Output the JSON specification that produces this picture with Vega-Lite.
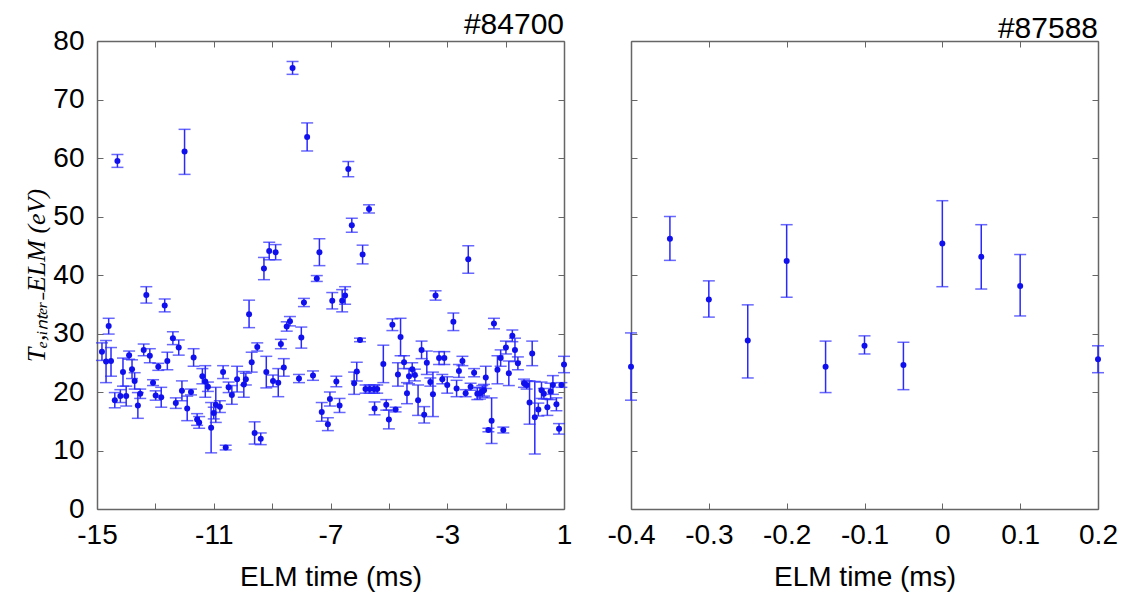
{
  "$schema": "https://vega.github.io/schema/vega-lite/v6.json",
  "background": "white",
  "padding": {"left": 23, "top": 10, "right": 5, "bottom": 5},
  "config": {
    "view": {"stroke": null},
    "axis": {"labelFont": "Liberation Sans", "labelFontSize": 28, "labelColor": "#000", "titleFont": "Liberation Sans", "titleFontSize": 28, "titleFontWeight": "normal", "titleColor": "#000", "domainColor": "#666", "domainWidth": 1.5, "tickColor": "#666", "tickSize": -6, "tickWidth": 1, "grid": false},
    "title": {"font": "Liberation Sans", "fontSize": 30, "fontWeight": "normal", "anchor": "end", "frame": "group", "color": "#000"}
  },
  "datasets": {
    "a": [
      {"t": -14.83, "te": 26.9, "lo": 25.4, "hi": 28.4},
      {"t": -14.69, "te": 25.2, "lo": 21.6, "hi": 28.8},
      {"t": -14.6, "te": 31.3, "lo": 29.9, "hi": 32.6},
      {"t": -14.52, "te": 25.3, "lo": 22.7, "hi": 27.6},
      {"t": -14.39, "te": 18.6, "lo": 17.3, "hi": 19.9},
      {"t": -14.2, "te": 19.3, "lo": 18.2, "hi": 20.4},
      {"t": -14.11, "te": 23.4, "lo": 21.0, "hi": 25.8},
      {"t": -14.0, "te": 19.3, "lo": 17.6, "hi": 21.0},
      {"t": -13.9, "te": 26.3, "lo": 25.6, "hi": 27.0},
      {"t": -13.8, "te": 23.9, "lo": 22.3, "hi": 25.5},
      {"t": -13.71, "te": 21.9, "lo": 20.5, "hi": 23.3},
      {"t": -13.6, "te": 17.7, "lo": 15.5, "hi": 19.9},
      {"t": -13.52, "te": 19.7, "lo": 18.9, "hi": 20.5},
      {"t": -13.4, "te": 27.2, "lo": 26.2, "hi": 28.2},
      {"t": -13.31, "te": 36.6, "lo": 35.2, "hi": 38.0},
      {"t": -13.19, "te": 26.2, "lo": 25.0, "hi": 27.4},
      {"t": -13.08, "te": 21.6, "lo": 21.1, "hi": 22.1},
      {"t": -12.99, "te": 19.4, "lo": 18.6, "hi": 20.2},
      {"t": -12.9, "te": 24.3, "lo": 23.7, "hi": 24.9},
      {"t": -12.8, "te": 19.1, "lo": 17.4, "hi": 20.8},
      {"t": -12.68, "te": 34.8, "lo": 33.7, "hi": 35.9},
      {"t": -12.59, "te": 25.3, "lo": 23.8, "hi": 26.8},
      {"t": -12.4, "te": 29.2, "lo": 28.1, "hi": 30.3},
      {"t": -12.3, "te": 18.1, "lo": 17.2, "hi": 19.0},
      {"t": -12.2, "te": 27.6, "lo": 26.3, "hi": 28.9},
      {"t": -12.09, "te": 20.2, "lo": 18.5, "hi": 21.9},
      {"t": -11.91, "te": 17.2, "lo": 15.1, "hi": 19.3},
      {"t": -11.78, "te": 20.0, "lo": 19.5, "hi": 20.5},
      {"t": -11.69, "te": 25.9, "lo": 24.4, "hi": 27.4},
      {"t": -11.57, "te": 15.3, "lo": 14.3, "hi": 16.3},
      {"t": -11.5, "te": 14.8, "lo": 13.8, "hi": 15.8},
      {"t": -11.39, "te": 22.7, "lo": 21.4, "hi": 24.0},
      {"t": -11.29, "te": 21.8, "lo": 19.1, "hi": 24.5},
      {"t": -11.2, "te": 20.9, "lo": 20.1, "hi": 21.7},
      {"t": -11.09, "te": 13.9, "lo": 9.6, "hi": 18.2},
      {"t": -11.0, "te": 16.4, "lo": 15.4, "hi": 17.4},
      {"t": -10.93, "te": 17.8, "lo": 14.8, "hi": 20.8},
      {"t": -10.79, "te": 17.5, "lo": 16.5, "hi": 18.5},
      {"t": -14.3, "te": 59.5, "lo": 58.4, "hi": 60.6},
      {"t": -12.0, "te": 61.1, "lo": 57.2, "hi": 64.9},
      {"t": -8.3, "te": 75.4, "lo": 74.3, "hi": 76.5},
      {"t": -7.8, "te": 63.6, "lo": 61.2, "hi": 66.0},
      {"t": -9.28, "te": 41.1, "lo": 39.2, "hi": 43.0},
      {"t": -9.1, "te": 44.1, "lo": 42.6, "hi": 45.6},
      {"t": -8.88, "te": 43.9, "lo": 42.6, "hi": 45.2},
      {"t": -7.38, "te": 43.9, "lo": 41.6, "hi": 46.2},
      {"t": -7.47, "te": 39.4, "lo": 38.9, "hi": 39.9},
      {"t": -6.39, "te": 58.1, "lo": 56.8, "hi": 59.4},
      {"t": -5.68, "te": 51.3, "lo": 50.6, "hi": 52.0},
      {"t": -6.27, "te": 48.5, "lo": 47.3, "hi": 49.7},
      {"t": -5.9, "te": 43.5, "lo": 41.9, "hi": 45.1},
      {"t": -2.28, "te": 42.7, "lo": 40.3, "hi": 45.0},
      {"t": -9.79, "te": 33.3, "lo": 31.0, "hi": 35.7},
      {"t": -7.91, "te": 35.3, "lo": 34.6, "hi": 36.0},
      {"t": -6.94, "te": 35.6, "lo": 34.2, "hi": 37.0},
      {"t": -8.39, "te": 32.1, "lo": 31.3, "hi": 32.9},
      {"t": -8.5, "te": 31.2, "lo": 30.4, "hi": 32.0},
      {"t": -8.0, "te": 29.3, "lo": 27.5, "hi": 31.1},
      {"t": -9.51, "te": 27.7, "lo": 27.0, "hi": 28.4},
      {"t": -8.7, "te": 28.2, "lo": 27.4, "hi": 29.0},
      {"t": -10.68, "te": 23.4, "lo": 22.3, "hi": 24.5},
      {"t": -9.7, "te": 25.1, "lo": 23.4, "hi": 26.8},
      {"t": -9.2, "te": 23.4, "lo": 20.7, "hi": 26.1},
      {"t": -8.6, "te": 24.2, "lo": 22.7, "hi": 25.7},
      {"t": -10.2, "te": 22.2, "lo": 20.0, "hi": 24.4},
      {"t": -9.9, "te": 22.2, "lo": 21.2, "hi": 23.2},
      {"t": -9.97, "te": 21.3, "lo": 19.1, "hi": 23.5},
      {"t": -10.49, "te": 20.8, "lo": 19.9, "hi": 21.7},
      {"t": -10.38, "te": 19.5, "lo": 17.9, "hi": 21.1},
      {"t": -8.97, "te": 21.9, "lo": 20.9, "hi": 22.9},
      {"t": -8.79, "te": 21.6, "lo": 19.2, "hi": 24.0},
      {"t": -8.08, "te": 22.3, "lo": 21.6, "hi": 23.0},
      {"t": -7.6, "te": 22.8, "lo": 22.0, "hi": 23.6},
      {"t": -7.02, "te": 18.8, "lo": 17.6, "hi": 20.0},
      {"t": -7.3, "te": 16.6, "lo": 15.0, "hi": 18.2},
      {"t": -7.09, "te": 14.5, "lo": 13.4, "hi": 15.6},
      {"t": -9.6, "te": 13.0, "lo": 11.1, "hi": 14.9},
      {"t": -9.39, "te": 12.0, "lo": 11.0, "hi": 13.0},
      {"t": -10.59, "te": 10.5, "lo": 10.1, "hi": 10.9},
      {"t": -6.6, "te": 35.6, "lo": 33.7, "hi": 37.5},
      {"t": -6.5, "te": 36.5, "lo": 35.0, "hi": 38.0},
      {"t": -3.4, "te": 36.5, "lo": 35.7, "hi": 37.3},
      {"t": -5.99, "te": 28.9, "lo": 28.6, "hi": 29.2},
      {"t": -4.88, "te": 31.5, "lo": 30.5, "hi": 32.5},
      {"t": -4.6, "te": 29.4, "lo": 26.2, "hi": 32.6},
      {"t": -5.19, "te": 24.8, "lo": 21.6, "hi": 28.0},
      {"t": -3.88, "te": 27.2, "lo": 25.7, "hi": 28.7},
      {"t": -3.7, "te": 25.0, "lo": 23.0, "hi": 27.0},
      {"t": -3.28, "te": 25.8, "lo": 24.7, "hi": 26.9},
      {"t": -3.1, "te": 25.8, "lo": 24.7, "hi": 26.9},
      {"t": -6.1, "te": 23.5, "lo": 21.9, "hi": 25.1},
      {"t": -6.19, "te": 21.5, "lo": 19.6, "hi": 23.4},
      {"t": -6.8, "te": 21.8, "lo": 20.9, "hi": 22.7},
      {"t": -6.69, "te": 17.7, "lo": 16.5, "hi": 18.9},
      {"t": -5.8, "te": 20.5, "lo": 19.8, "hi": 21.2},
      {"t": -5.66, "te": 20.5, "lo": 19.8, "hi": 21.2},
      {"t": -5.51, "te": 20.5, "lo": 19.8, "hi": 21.2},
      {"t": -5.4, "te": 20.5, "lo": 19.8, "hi": 21.2},
      {"t": -5.49, "te": 17.2, "lo": 16.1, "hi": 18.3},
      {"t": -5.09, "te": 17.8, "lo": 16.9, "hi": 18.7},
      {"t": -4.77, "te": 17.0, "lo": 16.6, "hi": 17.4},
      {"t": -5.0, "te": 15.3, "lo": 13.7, "hi": 16.9},
      {"t": -4.69, "te": 23.0, "lo": 21.0, "hi": 25.0},
      {"t": -4.48, "te": 25.1, "lo": 24.0, "hi": 26.2},
      {"t": -4.38, "te": 19.8, "lo": 18.0, "hi": 21.6},
      {"t": -4.31, "te": 22.7, "lo": 21.4, "hi": 24.0},
      {"t": -4.2, "te": 23.9, "lo": 22.8, "hi": 25.0},
      {"t": -4.11, "te": 22.9, "lo": 21.9, "hi": 23.9},
      {"t": -4.0, "te": 18.6, "lo": 16.0, "hi": 21.2},
      {"t": -3.79, "te": 16.1, "lo": 14.7, "hi": 17.5},
      {"t": -3.58, "te": 21.7, "lo": 21.0, "hi": 22.4},
      {"t": -3.49, "te": 19.6, "lo": 15.8, "hi": 23.4},
      {"t": -3.17, "te": 22.2, "lo": 21.4, "hi": 23.0},
      {"t": -3.0, "te": 21.2, "lo": 19.8, "hi": 22.6},
      {"t": -2.79, "te": 32.0, "lo": 30.5, "hi": 33.5},
      {"t": -1.4, "te": 31.7, "lo": 30.8, "hi": 32.6},
      {"t": -0.77, "te": 29.6, "lo": 28.6, "hi": 30.6},
      {"t": -0.99, "te": 27.6, "lo": 26.5, "hi": 28.7},
      {"t": -0.68, "te": 27.2, "lo": 25.2, "hi": 29.2},
      {"t": -0.09, "te": 26.6, "lo": 24.5, "hi": 28.7},
      {"t": -1.17, "te": 25.8, "lo": 24.4, "hi": 27.2},
      {"t": -0.58, "te": 24.9, "lo": 23.8, "hi": 26.0},
      {"t": -1.28, "te": 23.8, "lo": 21.4, "hi": 26.2},
      {"t": -0.89, "te": 23.2, "lo": 21.1, "hi": 25.3},
      {"t": -1.68, "te": 22.5, "lo": 20.6, "hi": 24.4},
      {"t": -2.08, "te": 23.3, "lo": 22.6, "hi": 24.0},
      {"t": -2.48, "te": 25.3, "lo": 24.5, "hi": 26.1},
      {"t": -2.6, "te": 23.6, "lo": 22.5, "hi": 24.7},
      {"t": -2.68, "te": 20.6, "lo": 19.2, "hi": 22.0},
      {"t": -2.37, "te": 19.8, "lo": 19.2, "hi": 20.4},
      {"t": -2.2, "te": 20.9, "lo": 20.3, "hi": 21.5},
      {"t": -1.97, "te": 19.7, "lo": 18.7, "hi": 20.7},
      {"t": -1.88, "te": 19.8, "lo": 18.8, "hi": 20.8},
      {"t": -1.8, "te": 20.1, "lo": 19.1, "hi": 21.1},
      {"t": -1.74, "te": 20.3, "lo": 19.3, "hi": 21.3},
      {"t": -1.48, "te": 15.1, "lo": 11.2, "hi": 19.0},
      {"t": -1.59, "te": 13.5, "lo": 13.2, "hi": 13.8},
      {"t": -1.08, "te": 13.5, "lo": 13.0, "hi": 14.0},
      {"t": -0.37, "te": 21.5, "lo": 20.8, "hi": 22.2},
      {"t": -0.28, "te": 21.2, "lo": 20.5, "hi": 21.9},
      {"t": -0.18, "te": 18.2, "lo": 14.5, "hi": 21.9},
      {"t": 0.0, "te": 15.7, "lo": 9.4, "hi": 21.8},
      {"t": 0.12, "te": 17.0, "lo": 15.9, "hi": 18.1},
      {"t": 0.23, "te": 20.3, "lo": 18.9, "hi": 21.7},
      {"t": 0.31, "te": 19.7, "lo": 18.8, "hi": 20.6},
      {"t": 0.43, "te": 17.4, "lo": 16.0, "hi": 18.8},
      {"t": 0.54, "te": 20.1, "lo": 18.7, "hi": 21.5},
      {"t": 0.62, "te": 21.2, "lo": 19.6, "hi": 22.8},
      {"t": 0.74, "te": 17.9, "lo": 16.8, "hi": 19.0},
      {"t": 0.83, "te": 13.7, "lo": 12.8, "hi": 14.6},
      {"t": 0.91, "te": 21.2, "lo": 20.8, "hi": 21.6},
      {"t": 1.0, "te": 24.7, "lo": 23.3, "hi": 26.1}
    ],
    "b": [
      {"t": -0.4, "te": 24.3, "lo": 18.6, "hi": 30.1},
      {"t": -0.35, "te": 46.2, "lo": 42.5, "hi": 50.0},
      {"t": -0.3, "te": 35.8, "lo": 32.8, "hi": 39.0},
      {"t": -0.25, "te": 28.8, "lo": 22.4, "hi": 34.9},
      {"t": -0.2, "te": 42.4, "lo": 36.2, "hi": 48.6},
      {"t": -0.15, "te": 24.3, "lo": 19.9, "hi": 28.7},
      {"t": -0.1, "te": 27.9, "lo": 26.5, "hi": 29.6},
      {"t": -0.05, "te": 24.6, "lo": 20.4, "hi": 28.5},
      {"t": 0.0, "te": 45.4, "lo": 38.0, "hi": 52.7},
      {"t": 0.05, "te": 43.1, "lo": 37.6, "hi": 48.6},
      {"t": 0.1, "te": 38.1, "lo": 33.0, "hi": 43.5},
      {"t": 0.2, "te": 25.6, "lo": 23.3, "hi": 27.9}
    ]
  },
  "hconcat": [
    {
      "width": 467,
      "height": 468,
      "title": {"text": "#84700", "offset": -13},
      "data": {"name": "a"},
      "layer": [
        {
          "layer": [
            {
              "mark": {"type": "rule", "color": "#2a2aff", "strokeWidth": 1.5},
              "encoding": {
                "x": {"field": "t", "type": "quantitative", "scale": {"domain": [-15, 1], "nice": false, "zero": false},
                  "axis": {"title": "ELM time (ms)", "orient": "bottom", "values": [-15, -13, -11, -9, -7, -5, -3, -1, 1], "labelExpr": "(datum.value + 15) % 4 == 0 ? replace(datum.label, '\u2212', '-') : ''", "labelPadding": 18, "titlePadding": 14, "labelFlush": false}},
                "y": {"field": "lo", "type": "quantitative", "scale": {"domain": [0, 80], "nice": false},
                  "axis": {"title": "Tₑ,ᵢₙₜₑᵣ₋ELM (eV)", "titleFont": "Liberation Serif", "titleFontStyle": "italic", "titleFontSize": 26, "values": [0, 10, 20, 30, 40, 50, 60, 70, 80], "labelPadding": 19, "titlePadding": 3, "labelFlush": false}},
                "y2": {"field": "hi"}
              }
            },
            {
              "mark": {"type": "tick", "orient": "horizontal", "size": 12, "thickness": 1.5, "color": "#2a2aff"},
              "encoding": {"x": {"field": "t", "type": "quantitative"}, "y": {"field": "hi", "type": "quantitative"}}
            },
            {
              "mark": {"type": "tick", "orient": "horizontal", "size": 12, "thickness": 1.5, "color": "#2a2aff"},
              "encoding": {"x": {"field": "t", "type": "quantitative"}, "y": {"field": "lo", "type": "quantitative"}}
            },
            {
              "mark": {"type": "circle", "size": 36, "opacity": 1, "color": "#1010ee"},
              "encoding": {"x": {"field": "t", "type": "quantitative"}, "y": {"field": "te", "type": "quantitative"}}
            }
          ]
        },
        {
          "mark": {"type": "point", "opacity": 0},
          "encoding": {
            "x": {"field": "t", "type": "quantitative", "scale": {"domain": [-15, 1], "nice": false, "zero": false},
              "axis": {"orient": "top", "title": null, "labels": false, "minExtent": 0, "maxExtent": 0, "values": [-15, -13, -11, -9, -7, -5, -3, -1, 1]}},
            "y": {"field": "te", "type": "quantitative", "scale": {"domain": [0, 80], "nice": false},
              "axis": {"orient": "right", "title": null, "labels": false, "minExtent": 0, "maxExtent": 0, "values": [0, 10, 20, 30, 40, 50, 60, 70, 80]}}
          }
        }
      ],
      "resolve": {"scale": {"x": "independent", "y": "independent"}}
    },
    {
      "width": 467,
      "height": 468,
      "title": {"text": "#87588", "offset": -3},
      "data": {"name": "b"},
      "layer": [
        {
          "layer": [
            {
              "mark": {"type": "rule", "color": "#2a2aff", "strokeWidth": 1.5},
              "encoding": {
                "x": {"field": "t", "type": "quantitative", "scale": {"domain": [-0.4, 0.2], "nice": false, "zero": false},
                  "axis": {"title": "ELM time (ms)", "orient": "bottom", "values": [-0.4, -0.3, -0.2, -0.1, 0, 0.1, 0.2], "labelExpr": "replace(format(datum.value, '~g'), '\u2212', '-')", "labelPadding": 18, "titlePadding": 14, "labelFlush": false}},
                "y": {"field": "lo", "type": "quantitative", "scale": {"domain": [0, 80], "nice": false},
                  "axis": {"title": null, "labels": false, "minExtent": 0, "maxExtent": 0, "values": [0, 10, 20, 30, 40, 50, 60, 70, 80]}},
                "y2": {"field": "hi"}
              }
            },
            {
              "mark": {"type": "tick", "orient": "horizontal", "size": 12, "thickness": 1.5, "color": "#2a2aff"},
              "encoding": {"x": {"field": "t", "type": "quantitative"}, "y": {"field": "hi", "type": "quantitative"}}
            },
            {
              "mark": {"type": "tick", "orient": "horizontal", "size": 12, "thickness": 1.5, "color": "#2a2aff"},
              "encoding": {"x": {"field": "t", "type": "quantitative"}, "y": {"field": "lo", "type": "quantitative"}}
            },
            {
              "mark": {"type": "circle", "size": 36, "opacity": 1, "color": "#1010ee"},
              "encoding": {"x": {"field": "t", "type": "quantitative"}, "y": {"field": "te", "type": "quantitative"}}
            }
          ]
        },
        {
          "mark": {"type": "point", "opacity": 0},
          "encoding": {
            "x": {"field": "t", "type": "quantitative", "scale": {"domain": [-0.4, 0.2], "nice": false, "zero": false},
              "axis": {"orient": "top", "title": null, "labels": false, "minExtent": 0, "maxExtent": 0, "values": [-0.4, -0.3, -0.2, -0.1, 0, 0.1, 0.2]}},
            "y": {"field": "te", "type": "quantitative", "scale": {"domain": [0, 80], "nice": false},
              "axis": {"orient": "right", "title": null, "labels": false, "minExtent": 0, "maxExtent": 0, "values": [0, 10, 20, 30, 40, 50, 60, 70, 80]}}
          }
        }
      ],
      "resolve": {"scale": {"x": "independent", "y": "independent"}}
    }
  ],
  "spacing": 34
}
